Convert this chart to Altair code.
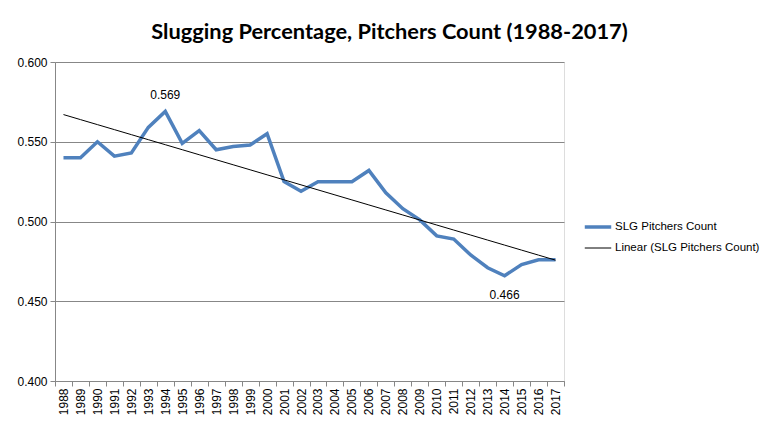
import altair as alt
import pandas as pd
import numpy as np

years = list(range(1988, 2018))
slg = [0.540, 0.540, 0.550, 0.541, 0.543, 0.559, 0.569, 0.549, 0.557, 0.545,
       0.547, 0.548, 0.555, 0.525, 0.519, 0.525, 0.525, 0.525, 0.532, 0.518,
       0.508, 0.501, 0.491, 0.489, 0.479, 0.471, 0.466, 0.473, 0.476, 0.476]

s1 = "SLG Pitchers Count"
s2 = "Linear (SLG Pitchers Count)"

idx = np.arange(len(years))
coef = np.polyfit(idx, slg, 1)
trend = list(np.polyval(coef, idx))

df = pd.DataFrame({
    "year": [str(y) for y in years] * 2,
    "value": slg + trend,
    "series": [s1] * len(years) + [s2] * len(years),
})

imax = int(np.argmax(slg))
imin = int(np.argmin(slg))
lab_hi = pd.DataFrame({"year": [str(years[imax])], "value": [slg[imax]], "txt": [f"{slg[imax]:.3f}"]})
lab_lo = pd.DataFrame({"year": [str(years[imin])], "value": [slg[imin]], "txt": [f"{slg[imin]:.3f}"]})

FONT = "Lato"
LFONT = "Liberation Sans"
GRID = "#878787"

xenc = alt.X("year:O", title=None,
             scale=alt.Scale(type="band", paddingInner=0, paddingOuter=0),
             axis=alt.Axis(labelAngle=-90, tickBand="extent", labelFontSize=12,
                           labelColor="#000000", domainColor=GRID, tickColor=GRID,
                           tickSize=5, labelPadding=2, labelFont=LFONT))
yenc = alt.Y("value:Q", title=None,
             scale=alt.Scale(domain=[0.4, 0.6], nice=False, zero=False),
             axis=alt.Axis(values=[0.4, 0.45, 0.5, 0.55, 0.6], format=".3f",
                           labelFontSize=12, labelColor="#000000", gridColor=GRID,
                           domainColor=GRID, tickColor=GRID, tickSize=5,
                           labelPadding=3, labelFont=LFONT))

leg = dict(orient="none", legendX=528, legendY=150,
           symbolType="stroke", symbolSize=700,
           labelFontSize=11.5, labelFont=LFONT,
           labelColor="#000000", rowPadding=0, labelOffset=2)

lines = alt.Chart(df).mark_line(strokeCap="butt").encode(
    x=xenc,
    y=yenc,
    color=alt.Color("series:N", title=None,
                    scale=alt.Scale(domain=[s1, s2], range=["#4F81BD", "#000000"]),
                    legend=alt.Legend(**leg)),
    strokeWidth=alt.StrokeWidth("series:N", title=None,
                                scale=alt.Scale(domain=[s1, s2], range=[3.5, 1.0]),
                                legend=alt.Legend(**leg)),
    detail="series:N",
)

hi = alt.Chart(lab_hi).mark_text(dy=-16, fontSize=12, font=LFONT,
                                 color="#000000", baseline="middle").encode(
    x=alt.X("year:O"), y=alt.Y("value:Q"), text="txt:N")
lo = alt.Chart(lab_lo).mark_text(dy=19, fontSize=12, font=LFONT,
                                 color="#000000", baseline="middle").encode(
    x=alt.X("year:O"), y=alt.Y("value:Q"), text="txt:N")

chart = alt.layer(lines, hi, lo).properties(
    width=509, height=319,
    title=alt.TitleParams("Slugging Percentage, Pitchers Count (1988-2017)",
                          font=FONT, fontSize=21.8, fontWeight="bold",
                          color="#000000", anchor="middle", offset=12, dx=80),
    padding={"left": 47, "top": 54, "right": 200, "bottom": 40},
    autosize=alt.AutoSizeParams(type="none"),
).configure_view(stroke=None).configure(background="white")

chart.save("out.html", embed_options={"renderer": "svg", "actions": False})
